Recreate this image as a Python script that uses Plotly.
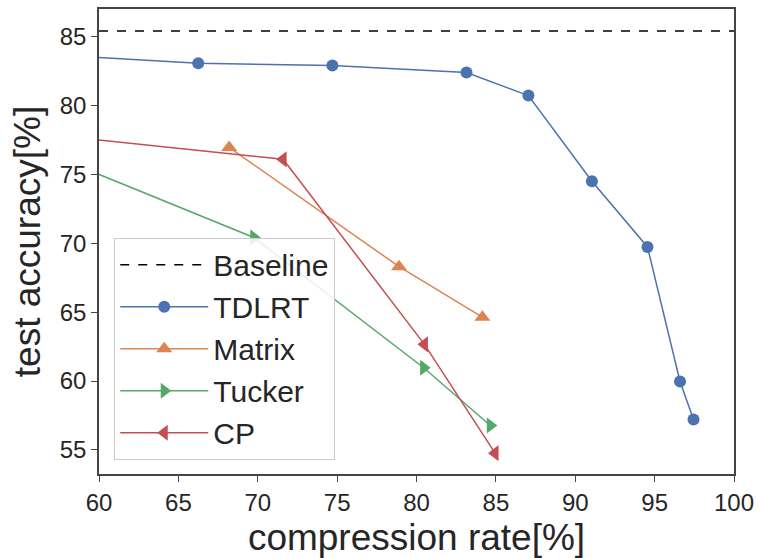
import plotly.graph_objects as go

baseline_x = [60, 100]
baseline_y = [85.4, 85.4]

tdlrt_x = [52.0, 66.25, 74.7, 83.15, 87.05, 91.05, 94.55, 96.6, 97.45]
tdlrt_y = [84.0, 83.06, 82.9, 82.39, 80.72, 74.5, 69.73, 59.96, 57.2]

matrix_x = [68.2, 78.9, 84.15]
matrix_y = [76.95, 68.3, 64.63]

tucker_x = [52.0, 69.75, 80.45, 84.65]
tucker_y = [78.76, 70.42, 60.96, 56.77]

cp_x = [52.0, 71.6, 80.5, 84.95]
cp_y = [78.46, 76.09, 62.66, 54.76]

x_ticks = [60, 65, 70, 75, 80, 85, 90, 95, 100]
y_ticks = [55, 60, 65, 70, 75, 80, 85]

BLUE = "#4C72B0"
ORANGE = "#DD8452"
GREEN = "#55A868"
RED = "#C44E52"
TXT = "#262626"
FONT = "Liberation Sans, Arial, sans-serif"

fig = go.Figure()
fig.add_trace(go.Scatter(x=baseline_x, y=baseline_y, mode="lines", name="Baseline",
                         line=dict(color="black", width=1.5, dash="dash")))
fig.add_trace(go.Scatter(x=tdlrt_x, y=tdlrt_y, mode="lines+markers", name="TDLRT",
                         line=dict(color=BLUE, width=1.5),
                         marker=dict(symbol="circle", size=12, color=BLUE)))
fig.add_trace(go.Scatter(x=matrix_x, y=matrix_y, mode="lines+markers", name="Matrix",
                         line=dict(color=ORANGE, width=1.5),
                         marker=dict(symbol="triangle-up", size=14, color=ORANGE)))
fig.add_trace(go.Scatter(x=tucker_x, y=tucker_y, mode="lines+markers", name="Tucker",
                         line=dict(color=GREEN, width=1.5),
                         marker=dict(symbol="triangle-right", size=14, color=GREEN)))
fig.add_trace(go.Scatter(x=cp_x, y=cp_y, mode="lines+markers", name="CP",
                         line=dict(color=RED, width=1.5),
                         marker=dict(symbol="triangle-left", size=14, color=RED)))

axis_common = dict(showgrid=False, zeroline=False, showline=True, linecolor="#444444",
                   linewidth=1.5, mirror=True, ticks="outside", ticklen=6, tickwidth=1.2,
                   tickcolor="#444444", tickfont=dict(size=24, color=TXT, family=FONT))

fig.update_layout(
    width=762, height=558,
    margin=dict(l=99, r=28, t=7, b=81),
    paper_bgcolor="white", plot_bgcolor="white",
    font=dict(family=FONT, color=TXT),
    xaxis=dict(range=[60, 100], tickvals=x_ticks,
               title=dict(text="compression rate[%]", font=dict(size=37, color=TXT), standoff=10),
               **axis_common),
    yaxis=dict(range=[53.25, 87.0], tickvals=y_ticks,
               title=dict(text="test accuracy[%]", font=dict(size=37, color=TXT), standoff=8),
               **axis_common),
    legend=dict(x=0.024, y=0.508, xanchor="left", yanchor="top",
                bgcolor="rgba(255,255,255,0.85)", bordercolor="#cccccc", borderwidth=1,
                font=dict(size=30, color=TXT, family=FONT),
                itemwidth=88, tracegroupgap=0),
    showlegend=True,
)

fig.write_html("out.html")
